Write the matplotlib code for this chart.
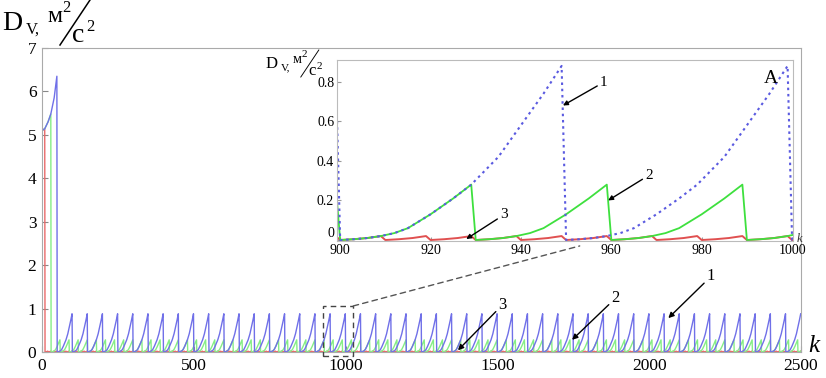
import numpy as np
import matplotlib
matplotlib.use("Agg")
import matplotlib.pyplot as plt
from matplotlib.patches import Rectangle, ConnectionPatch
from matplotlib.lines import Line2D

plt.rcParams['font.family'] = ['Liberation Serif', 'DejaVu Serif']

growth_t = [0, 3, 6, 9, 12, 15, 20, 25, 29, 35, 40, 45, 49]
growth_v = [0.0, 0.004, 0.01, 0.02, 0.035, 0.06, 0.13, 0.21, 0.28, 0.42, 0.58, 0.74, 0.88]

# first cycle starts from the initial value
start_t = [0, 9, 20, 29, 40, 49]
start_v = [5.1, 5.14, 5.3, 5.48, 5.85, 6.35]

# reset period of curves 1, 2, 3
period_1 = 50
period_2 = 30
period_3 = 10
k_max = 2500

main_xticks = [0, 500, 1000, 1500, 2000, 2500]
main_yticks = [0, 1, 2, 3, 4, 5, 6, 7]
ins_xticks = [900, 920, 940, 960, 980, 1000]
ins_yticks = [0, 0.2, 0.4, 0.6, 0.8]
ins_yticklabels = ["0", "0.2", "0.4", "0.6", "0.8"]

blue = "#7070e8"
green = "#86ee86"
red = "#e86a6a"


def build(period):
    ks, vs = [], []
    for c in range(0, k_max, period):
        tt, vv = (start_t, start_v) if c == 0 else (growth_t, growth_v)
        for t, v in zip(tt, vv):
            if t < period and c + t <= k_max:
                ks.append(c + t)
                vs.append(v)
    return np.array(ks), np.array(vs)


k1, d1 = build(period_1)
k2, d2 = build(period_2)
k3, d3 = build(period_3)

W, H = 826, 378
fig = plt.figure(figsize=(W / 100, H / 100), dpi=100)


def fx(px):
    return px / W


def fy(py):
    return 1 - py / H


ax = fig.add_axes([fx(42), fy(352), fx(801) - fx(42), fy(48) - fy(352)])
ax.plot(k3, d3, color=red, lw=1)
ax.plot(k2, d2, color=green, lw=1)
ax.plot(k1, d1, color=blue, lw=1)
ax.set_xlim(0, 2500)
ax.set_ylim(0, 7)
ax.set_xticks(main_xticks)
ax.set_yticks(main_yticks)
ax.tick_params(direction='in', length=4, color='#888888', labelsize=12.5, pad=4)
for s in ax.spines.values():
    s.set_color('#aaaaaa')

# zoom box and connector
rect = Rectangle((925, -0.09), 100, 1.15, fill=False, ls=(0, (4, 3)), lw=1,
                 ec='#444444', clip_on=False, zorder=5)
ax.add_patch(rect)

arrow = dict(arrowstyle='-|>', color='black', lw=1, mutation_scale=8, shrinkA=0, shrinkB=0)
ax.annotate("1", xy=(2063, 0.78), xytext=(2190, 1.65), fontsize=12, arrowprops=arrow)
ax.annotate("2", xy=(1746, 0.28), xytext=(1876, 1.15), fontsize=12, arrowprops=arrow)
ax.annotate("3", xy=(1370, 0.04), xytext=(1504, 1.0), fontsize=12, arrowprops=arrow)

# inset A
axi = fig.add_axes([fx(337), fy(241), fx(793) - fx(337), fy(60) - fy(241)])
axi.set_facecolor('white')
axi.plot(k3, d3, color="#e05050", lw=1.4)
axi.plot(k2, d2, color="#3ee03e", lw=1.3)
axi.plot(k1, d1, color="#5a5ae0", lw=1.5, ls=(0, (1.2, 1.8)))
axi.set_xlim(899.3, 1000.2)
axi.set_ylim(-0.005, 0.91)
axi.set_xticks(ins_xticks)
axi.set_yticks(ins_yticks)
axi.set_yticklabels(ins_yticklabels)
axi.tick_params(direction='in', length=3, color='#999999', labelsize=10, pad=2)
axi.get_yticklabels()[0].set_va('bottom')
for s in axi.spines.values():
    s.set_color('#bbbbbb')

arrow_s = dict(arrowstyle='-|>', color='black', lw=1, mutation_scale=7, shrinkA=0, shrinkB=0)
axi.annotate("1", xy=(949.3, 0.68), xytext=(957.5, 0.78), fontsize=11, arrowprops=arrow_s)
axi.annotate("2", xy=(959.3, 0.2), xytext=(967.5, 0.31), fontsize=11, arrowprops=arrow_s)
axi.annotate("3", xy=(927.9, 0.005), xytext=(935.4, 0.11), fontsize=11, arrowprops=arrow_s)
axi.text(0.935, 0.9, "A", transform=axi.transAxes, fontsize=14, ha='left', va='center')
axi.text(fx(797), fy(242), "k", transform=fig.transFigure, fontsize=9, style='italic',
         ha='left', va='baseline', color='#333333')

con = ConnectionPatch(xyA=(1025, 1.06), coordsA=ax.transData,
                      xyB=(953, -0.03), coordsB=axi.transData,
                      ls=(0, (4, 3)), lw=1, color='#555555', zorder=6)
fig.add_artist(con)


# axis label D_V, m^2/s^2 built from pieces
def units(x0, base, size, small, scale):
    fig.text(fx(x0), fy(base), "D", fontsize=size, va='baseline')
    fig.text(fx(x0 + 24 * scale), fy(base + 4 * scale), "V,", fontsize=small, va='baseline')
    fig.text(fx(x0 + 45 * scale), fy(base - 8 * scale), "м", fontsize=size * 0.85, va='baseline')
    fig.text(fx(x0 + 60 * scale), fy(base - 18 * scale), "2", fontsize=small, va='baseline')
    fig.add_artist(Line2D([fx(x0 + 58 * scale), fx(x0 + 88 * scale)],
                          [fy(base + 15 * scale), fy(base - 30 * scale)],
                          color='black', lw=1.1 * scale))
    fig.text(fx(x0 + 70 * scale), fy(base + 12 * scale), "с", fontsize=size, va='baseline')
    fig.text(fx(x0 + 84 * scale), fy(base + 1 * scale), "2", fontsize=small, va='baseline')


units(2, 30, 20, 12, 1.0)
units(266, 68, 12, 8, 0.6)

fig.text(fx(808), fy(352), "k", fontsize=18, style='italic', va='baseline')

fig.savefig("out.png", dpi=100)
